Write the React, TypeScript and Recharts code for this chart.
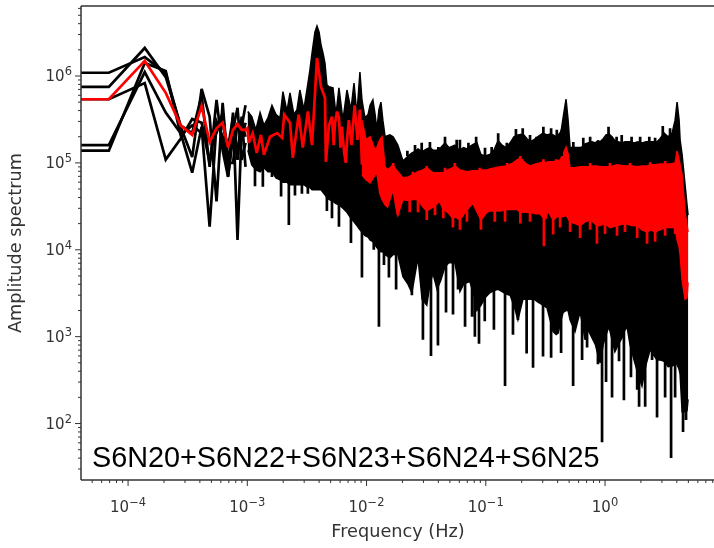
import { ComposedChart, Area, Line, XAxis, YAxis, ReferenceLine } from "recharts";

const INK = "#333333";

// log axes, limits
const xDomain = [4.03e-5, 8.2];
const yDomain = [22.4, 6.39e6];

const xMajor = [1e-4, 1e-3, 1e-2, 1e-1, 1];
const xExponents = ["−4", "−3", "−2", "−1", "0"];
const xMinor = [
  5e-5, 6e-5, 7e-5, 8e-5, 9e-5,
  2e-4, 3e-4, 4e-4, 5e-4, 6e-4, 7e-4, 8e-4, 9e-4,
  2e-3, 3e-3, 4e-3, 5e-3, 6e-3, 7e-3, 8e-3, 9e-3,
  2e-2, 3e-2, 4e-2, 5e-2, 6e-2, 7e-2, 8e-2, 9e-2,
  0.2, 0.3, 0.4, 0.5, 0.6, 0.7, 0.8, 0.9,
  2, 3, 4, 5, 6, 7, 8,
];
const yMajor = [1e2, 1e3, 1e4, 1e5, 1e6];
const yExponents = ["2", "3", "4", "5", "6"];
const yMinor = [
  30, 40, 50, 60, 70, 80, 90,
  200, 300, 400, 500, 600, 700, 800, 900,
  2e3, 3e3, 4e3, 5e3, 6e3, 7e3, 8e3, 9e3,
  2e4, 3e4, 4e4, 5e4, 6e4, 7e4, 8e4, 9e4,
  2e5, 3e5, 4e5, 5e5, 6e5, 7e5, 8e5, 9e5,
  2e6, 3e6, 4e6, 5e6, 6e6,
];

// the five separate segments at the low frequency end
const lowFreqs = [4.03e-5, 6.9e-5, 1.38e-4, 2.07e-4, 2.76e-4, 3.45e-4, 4.14e-4, 4.83e-4, 5.52e-4, 6.21e-4, 6.9e-4, 7.59e-4, 8.28e-4, 8.97e-4, 9.66e-4];
const segA = [1.09e6, 1.09e6, 1.65e6, 1.08e6, 2.6e5, 1.17e5, 7.1e5, 3.4e5, 3.6e4, 4.9e5, 9.0e4, 3.8e5, 1.3e4, 2.6e5, 4.6e5];
const segB = [7.5e5, 7.5e5, 2.1e6, 9.7e5, 2.7e5, 2.2e5, 6.0e5, 9.0e4, 5.3e5, 1.4e5, 6.9e4, 2.4e5, 4.3e5, 1.08e5, 1.7e5];
const segC = [1.6e5, 1.6e5, 1.11e6, 3.8e5, 2.2e5, 7.7e4, 2.6e5, 1.84e4, 2.8e5, 2.8e5, 1.5e5, 3.4e5, 1.08e5, 3.4e5, 9.0e4];
const segD = [1.38e5, 1.38e5, 1.41e6, 1.14e6, 2.1e5, 2.7e5, 2.2e5, 1.84e5, 2.2e5, 3.8e5, 1.0e5, 1.0e5, 2.9e5, 1.84e5, 2.9e5];
const segE = [5.4e5, 5.4e5, 8.3e5, 1.09e5, 1.9e5, 3.2e5, 2.9e5, 1.0e5, 3.0e5, 2.0e5, 7.0e4, 2.0e5, 1.4e5, 3.0e5, 2.0e5];

// black mass of the individual spectra: upper and lower edge
const bandFreqs = [
  1.01e-3, 1.09e-3, 1.18e-3, 1.28e-3, 1.38e-3, 1.49e-3, 1.61e-3, 1.74e-3, 1.88e-3, 1.99e-3,
  2.15e-3, 2.28e-3, 2.46e-3, 2.61e-3, 2.76e-3, 2.98e-3, 3.22e-3, 3.35e-3, 3.49e-3, 3.69e-3,
  3.84e-3, 4.0e-3, 4.15e-3, 4.31e-3, 4.48e-3, 4.65e-3, 4.84e-3, 5.23e-3, 5.54e-3, 5.87e-3,
  6.34e-3, 6.85e-3, 7.4e-3, 7.85e-3, 8.3e-3, 8.8e-3, 9.15e-3, 9.7e-3, 1.03e-2, 1.07e-2,
  1.13e-2, 1.18e-2, 1.22e-2, 1.27e-2, 1.32e-2, 1.37e-2, 1.43e-2, 1.57e-2, 1.67e-2, 1.83e-2,
  2.02e-2, 2.23e-2, 2.4e-2, 2.55e-2, 2.7e-2, 2.92e-2, 3.2e-2, 3.4e-2, 3.6e-2, 3.9e-2,
  4.2e-2, 4.55e-2, 4.9e-2, 5.2e-2, 5.5e-2, 5.85e-2, 6.07e-2, 6.5e-2, 6.95e-2, 7.35e-2,
  7.97e-2, 8.43e-2, 9.1e-2, 9.85e-2, 0.108, 0.117, 0.127, 0.137, 0.148, 0.16,
  0.172, 0.186, 0.205, 0.222, 0.235, 0.254, 0.274, 0.302, 0.326, 0.346,
  0.367, 0.389, 0.405, 0.428, 0.445, 0.471, 0.49, 0.509, 0.56, 0.618,
  0.654, 0.68, 0.72, 0.778, 0.83, 0.872, 0.91, 0.965, 1.02, 1.08,
  1.145, 1.21, 1.29, 1.39, 1.47, 1.53, 1.62, 1.75, 1.89, 2.04,
  2.21, 2.39, 2.58, 2.73, 2.89, 3.13, 3.38, 3.65, 3.87, 4.02,
  4.18, 4.26, 4.43, 4.69, 4.87, 4.97,
];
const bandTops = [
  3.9e5, 3.4e5, 2.4e5, 3.8e5, 2.7e5, 3.3e5, 4.6e5, 3.6e5, 3.3e5, 6.6e5,
  3.9e5, 6.4e5, 3.6e5, 4.1e5, 6.9e5, 4.1e5, 8.1e5, 1.17e6, 1.84e6, 3.2e6,
  3.76e6, 3.2e6, 2.27e6, 1.84e6, 1.41e6, 7.9e5, 7.5e5, 7.3e5, 3.6e5, 7.3e5,
  3.1e5, 6.9e5, 4.1e5, 8.3e5, 3.6e5, 1.11e6, 5.3e5, 3.3e5, 3.6e5, 4.6e5,
  5.3e5, 3.6e5, 2.4e5, 4.1e5, 5.0e5, 3.1e5, 2.0e5, 2.1e5, 2.0e5, 1.6e5,
  1.05e5, 1.2e5, 1.3e5, 1.35e5, 1.45e5, 1.35e5, 1.45e5, 1.5e5, 1.4e5, 1.4e5,
  1.5e5, 1.7e5, 1.5e5, 1.55e5, 1.6e5, 1.45e5, 1.4e5, 1.5e5, 1.45e5, 1.55e5,
  1.65e5, 1.7e5, 1.25e5, 1.2e5, 1.25e5, 1.4e5, 1.8e5, 1.6e5, 1.5e5, 1.7e5,
  2.0e5, 2.1e5, 2.15e5, 1.9e5, 1.75e5, 1.85e5, 2.0e5, 2.2e5, 2.1e5, 2.15e5,
  2.1e5, 2.0e5, 2.1e5, 2.3e5, 3.3e5, 5.4e5, 3.1e5, 1.5e5, 1.5e5, 1.5e5,
  1.55e5, 1.65e5, 1.7e5, 1.75e5, 1.7e5, 1.8e5, 1.75e5, 1.9e5, 2.1e5, 2.15e5,
  2.0e5, 1.8e5, 1.75e5, 1.7e5, 1.75e5, 1.75e5, 1.75e5, 1.7e5, 1.75e5, 1.7e5,
  1.75e5, 1.75e5, 1.75e5, 1.75e5, 1.9e5, 2.2e5, 2.0e5, 2.2e5, 3.1e5, 5.0e5,
  3.1e5, 1.84e5, 1.24e5, 5.6e4, 3.3e4, 2.5e4,
];
const bandLows = [
  1.4e5, 9.5e4, 8.3e4, 7.9e4, 8.8e4, 7.9e4, 7.9e4, 6.7e4, 6.4e4, 6.0e4,
  6.0e4, 5.6e4, 5.6e4, 5.6e4, 5.6e4, 5.6e4, 5.2e4, 5.2e4, 4.9e4, 4.9e4,
  4.9e4, 4.9e4, 4.9e4, 4.6e4, 4.3e4, 4.0e4, 3.8e4, 3.6e4, 3.4e4, 3.3e4,
  3.0e4, 2.7e4, 2.3e4, 2.1e4, 1.9e4, 1.7e4, 1.6e4, 1.45e4, 1.4e4, 1.3e4,
  1.24e4, 1.14e4, 1.06e4, 1.0e4, 9.5e3, 9.5e3, 8.8e3, 8.1e3, 8.8e3, 8.8e3,
  4.9e3, 4.0e3, 3.2e3, 5.2e3, 8.1e3, 2.7e3, 2.3e3, 4.0e3, 5.4e3, 3.5e3,
  4.5e3, 6.4e3, 7.1e3, 7.1e3, 7.1e3, 4.5e3, 3.3e3, 4.0e3, 4.2e3, 4.3e3,
  3.0e3, 2.0e3, 2.3e3, 2.8e3, 3.2e3, 3.4e3, 3.5e3, 3.3e3, 3.1e3, 3.0e3,
  2.3e3, 1.56e3, 2.7e3, 2.7e3, 2.7e3, 2.7e3, 2.5e3, 2.3e3, 2.15e3, 1.56e3,
  1.14e3, 1.06e3, 1.1e3, 1.56e3, 1.9e3, 2.0e3, 2.0e3, 1.56e3, 1.14e3, 1.94e3,
  1.27e3, 9.2e2, 1.2e3, 9.7e2, 8.1e2, 6.2e2, 5.0e2, 8.1e2, 1.06e3, 1.3e3,
  9.2e2, 6.7e2, 8.1e2, 9.7e2, 1.2e3, 1.3e3, 8.1e2, 5.4e2, 3.7e2, 2.7e2,
  4.8e2, 7.1e2, 6.0e2, 5.4e2, 5.4e2, 5.2e2, 4.5e2, 4.6e2, 4.8e2, 4.8e2,
  4.2e2, 3.7e2, 1.37e2, 1.37e2, 1.4e2, 1.9e2,
];

// single deep dips below the mass, each hangs from a root hidden in the mass
const dipFreqs = [
  1.16e-3, 1.35e-3, 1.61e-3, 1.92e-3, 2.23e-3, 2.51e-3, 2.87e-3, 3.22e-3, 4.65e-3, 5.13e-3,
  5.87e-3, 7.4e-3, 9.15e-3, 1.05e-2, 1.15e-2, 1.27e-2, 1.4e-2, 1.54e-2, 1.77e-2, 2.06e-2,
  2.4e-2, 2.97e-2, 3.47e-2, 3.97e-2, 4.64e-2, 5.31e-2, 5.85e-2, 6.7e-2, 7.67e-2, 8.1e-2,
  8.77e-2, 9.8e-2, 0.117, 0.145, 0.169, 0.186, 0.22, 0.249, 0.302, 0.353,
  0.428, 0.54, 0.642, 0.707, 0.872, 0.944, 1.02, 1.145, 1.31, 1.44,
  1.65, 1.86, 1.93, 2.17, 2.48, 2.73, 3.19, 3.58, 3.87, 4.51, 4.78,
];
const dipDepths = [
  5.4e4, 5.3e4, 6.9e4, 4.1e4, 1.93e4, 4.2e4, 4.4e4, 4.4e4, 2.8e4, 2.3e4,
  1.84e4, 1.2e4, 4.8e3, 1.8e4, 1.0e4, 1.3e3, 6.7e3, 4.8e3, 3.5e3, 4.9e3,
  3.0e3, 9.2e2, 6.0e2, 7.9e2, 1.9e3, 1.8e3, 3.5e3, 1.3e3, 1.7e3, 1.0e3,
  8.3e2, 1.5e3, 1.2e3, 2.7e2, 1.05e3, 1.56e3, 6.4e2, 4.4e2, 5.9e2, 5.7e2,
  6.5e2, 2.7e2, 5.4e2, 7.5e2, 4.8e2, 6.1e1, 3.0e2, 2.0e2, 5.2e2, 1.85e2,
  3.4e2, 2.45e2, 1.56e2, 1.56e2, 5.4e2, 1.17e2, 2.0e2, 4.0e1, 2.0e2, 8.0e1, 1.1e2,
];
const dipRoots = [
  1e5, 1e5, 1e5, 1e5, 1e5, 1e5, 1e5, 1e5, 1e5, 1e5,
  1e5, 1e5, 3e4, 3e4, 3e4, 3e4, 1e4, 1e4, 1e4, 1e4,
  1e4, 1e4, 1e4, 1e4, 1e4, 1e4, 1e4, 1e4, 1e4, 1e4,
  1e4, 1e4, 1e4, 1e4, 1e4, 1e4, 1e4, 1e4, 1e4, 1e4,
  1e4, 1e4, 1e4, 1e4, 1e4, 1e4, 1e4, 1e4, 1e4, 1e4,
  1e4, 1e4, 1e4, 1e4, 1e4, 1e4, 1e4, 1e4, 1e4, 1.5e3, 1.5e3,
];

// short teeth along the top edge of the mass
const peakFreqs = [
  2.2e-2, 2.55e-2, 2.9e-2, 3.4e-2, 4.0e-2, 4.55e-2, 5.7e-2, 6.07e-2, 7.15e-2, 8.3e-2,
  9.85e-2, 0.112, 0.127, 0.15, 0.179, 0.204, 0.235, 0.267, 0.304, 0.353,
  0.394, 0.433, 0.542, 0.657, 0.75, 1.07, 1.25, 1.38, 1.67, 1.97,
  2.35, 2.63, 3.05, 3.51,
];
const peakAmps = [
  1.38e5, 1.61e5, 1.7e5, 1.74e5, 1.52e5, 2.0e5, 1.84e5, 1.84e5, 1.7e5, 2.0e5,
  1.49e5, 1.52e5, 2.2e5, 1.7e5, 2.46e5, 2.5e5, 2.1e5, 2.0e5, 2.6e5, 2.5e5,
  2.4e5, 2.4e5, 1.74e5, 1.94e5, 2.0e5, 2.6e5, 2.0e5, 2.1e5, 2.0e5, 2.0e5,
  2.0e5, 1.94e5, 2.66e5, 2.5e5,
];
const peakRoot = 1.2e5;

// red stacked spectrum: a plain line first, then it thickens into a band
const redLineFreqs = [
  4.03e-5, 6.9e-5, 1.38e-4, 2.07e-4, 2.76e-4, 3.45e-4, 4.14e-4, 4.83e-4, 5.52e-4, 6.21e-4,
  6.9e-4, 7.59e-4, 8.28e-4, 8.97e-4, 9.66e-4, 1.0e-3, 1.03e-3, 1.11e-3, 1.2e-3, 1.3e-3,
  1.38e-3, 1.55e-3, 1.78e-3, 1.96e-3, 2.04e-3, 2.28e-3, 2.41e-3, 2.7e-3, 2.92e-3, 3.22e-3,
  3.49e-3, 3.84e-3, 4.15e-3, 4.48e-3, 4.56e-3, 4.84e-3, 5.13e-3, 5.3e-3, 5.44e-3, 5.66e-3,
  5.87e-3, 6.05e-3, 6.2e-3, 6.5e-3, 6.7e-3, 6.9e-3, 7.1e-3, 7.5e-3, 7.75e-3, 7.95e-3,
  8.4e-3, 8.8e-3, 9.15e-3,
];
const redLineAmps = [
  5.4e5, 5.4e5, 1.49e6, 6.4e5, 2.7e5, 2.1e5, 4.5e5, 1.74e5, 2.5e5, 2.9e5,
  1.5e5, 2.4e5, 2.8e5, 2.4e5, 2.4e5, 2.5e5, 1.7e5, 2.2e5, 1.3e5, 2.1e5,
  1.24e5, 2.0e5, 2.2e5, 1.94e5, 3.6e5, 2.9e5, 1.14e5, 3.6e5, 1.5e5, 3.9e5,
  1.6e5, 1.61e6, 7.5e5, 5.6e5, 1.03e5, 2.7e5, 3.4e5, 1.6e5, 2.9e5, 3.9e5,
  3.3e5, 1.5e5, 2.6e5, 1.3e5, 1.0e5, 2.0e5, 3.1e5, 1.6e5, 3.0e5, 4.6e5,
  1.84e5, 4.1e5, 9.5e4,
];
const redFreqs = [
  9.15e-3, 9.9e-3, 1.07e-2, 1.18e-2, 1.22e-2, 1.29e-2, 1.35e-2, 1.43e-2, 1.5e-2, 1.57e-2,
  1.67e-2, 1.77e-2, 1.83e-2, 2.02e-2, 2.23e-2, 2.45e-2, 2.7e-2, 2.97e-2, 3.2e-2, 3.6e-2,
  4.1e-2, 4.4e-2, 4.8e-2, 5.3e-2, 5.5e-2, 6.07e-2, 6.95e-2, 7.8e-2, 8.6e-2, 9.1e-2,
  0.102, 0.108, 0.132, 0.151, 0.169, 0.183, 0.195, 0.213, 0.235, 0.263,
  0.284, 0.307, 0.32, 0.332, 0.367, 0.395, 0.42, 0.445, 0.471, 0.49,
  0.509, 0.56, 0.618, 0.68, 0.75, 0.79, 0.855, 0.91, 1.0, 1.1,
  1.26, 1.47, 1.68, 1.86, 2.04, 2.25, 2.43, 2.63, 2.89, 3.19,
  3.52, 3.87, 4.02, 4.18, 4.26, 4.43, 4.69, 4.87, 4.97,
];
const redTops = [
  3.1e5, 1.84e5, 2.0e5, 1.4e5, 1.5e5, 1.84e5, 2.0e5, 9.0e4, 8.3e4, 8.8e4,
  9.5e4, 8.3e4, 7.9e4, 6.7e4, 6.9e4, 7.3e4, 7.9e4, 8.3e4, 8.8e4, 7.7e4,
  7.7e4, 7.7e4, 8.3e4, 8.8e4, 9.2e4, 8.3e4, 7.9e4, 8.1e4, 8.1e4, 8.3e4,
  8.3e4, 8.5e4, 9.0e4, 9.2e4, 1.0e5, 1.08e5, 1.14e5, 1.0e5, 9.2e4, 9.7e4,
  1.0e5, 1.03e5, 1.0e5, 1.03e5, 1.03e5, 1.05e5, 1.08e5, 1.27e5, 1.52e5, 1.27e5,
  8.8e4, 8.8e4, 9.0e4, 9.0e4, 9.0e4, 9.2e4, 9.2e4, 9.0e4, 9.0e4, 9.0e4,
  9.5e4, 9.2e4, 9.2e4, 9.0e4, 9.2e4, 9.2e4, 9.5e4, 9.5e4, 9.7e4, 9.7e4,
  9.7e4, 1.0e5, 1.37e5, 1.08e5, 9.5e4, 7.3e4, 2.66e4, 1.94e4, 1.6e4,
];
const redLows = [
  7.3e4, 6.4e4, 5.9e4, 7.3e4, 7.7e4, 4.5e4, 3.8e4, 3.3e4, 3.1e4, 3.8e4,
  4.9e4, 3.0e4, 2.5e4, 3.8e4, 3.7e4, 3.8e4, 3.8e4, 3.1e4, 2.8e4, 3.1e4,
  3.6e4, 2.9e4, 2.7e4, 2.3e4, 2.4e4, 2.2e4, 2.9e4, 3.4e4, 2.6e4, 2.2e4,
  2.7e4, 2.8e4, 2.8e4, 2.9e4, 2.9e4, 2.9e4, 2.7e4, 2.7e4, 2.7e4, 2.6e4,
  2.6e4, 2.3e4, 2.3e4, 2.8e4, 2.2e4, 2.4e4, 2.4e4, 2.4e4, 2.5e4, 2.3e4,
  2.1e4, 2.0e4, 1.9e4, 2.1e4, 2.2e4, 2.1e4, 1.9e4, 1.9e4, 2.0e4, 1.8e4,
  1.9e4, 2.0e4, 1.9e4, 1.9e4, 1.7e4, 1.6e4, 1.7e4, 1.6e4, 1.7e4, 1.8e4,
  1.8e4, 1.8e4, 1.3e4, 1.08e4, 8.8e3, 4.5e3, 2.7e3, 2.8e3, 4.2e3,
];

// thin red teeth on both edges of the red band
const redDipFreqs = [
  1.83e-2, 2.3e-2, 2.7e-2, 3.2e-2, 3.75e-2, 4.4e-2, 5.3e-2, 6.07e-2, 6.95e-2, 9.1e-2,
  0.119, 0.145, 0.195, 0.235, 0.307, 0.367, 0.42, 0.509, 0.618, 0.75,
  0.855, 1.0, 1.26, 1.47, 1.86, 2.25, 2.63, 3.19, 3.87,
];
const redDipAmps = [
  2.5e4, 2.7e4, 2.7e4, 2.2e4, 2.5e4, 2.3e4, 1.8e4, 1.7e4, 2.1e4, 1.7e4,
  2.1e4, 2.1e4, 2.0e4, 2.1e4, 1.1e4, 1.5e4, 1.8e4, 1.6e4, 1.37e4, 1.7e4,
  1.17e4, 1.52e4, 1.45e4, 1.6e4, 1.37e4, 1.17e4, 1.24e4, 1.45e4, 1.52e4,
];
const redPeakFreqs = [1.67e-2, 2.45e-2, 3.2e-2, 4.55e-2, 5.5e-2, 8.9e-2, 0.151, 0.195, 0.304, 0.389, 0.75, 1.1, 1.62, 2.39, 3.19];
const redPeakAmps = [1.0e5, 7.9e4, 9.2e4, 8.8e4, 1.0e5, 8.8e4, 1.0e5, 1.2e5, 1.1e5, 1.1e5, 1.0e5, 1.0e5, 1.0e5, 1.02e5, 1.05e5];
const redRoot = 5e4;

const lowRows = lowFreqs.map((freq, i) => ({
  freq, a: segA[i], b: segB[i], c: segC[i], d: segD[i], e: segE[i],
}));
const bandRows = bandFreqs.map((freq, i) => ({ freq, range: [bandLows[i], bandTops[i]] }));
const dipRows = dipFreqs.flatMap((freq, i) => [
  { freq, amp: dipRoots[i] },
  { freq, amp: dipDepths[i] },
  { freq, amp: null },
]);
const peakRows = peakFreqs.flatMap((freq, i) => [
  { freq, amp: peakRoot },
  { freq, amp: peakAmps[i] },
  { freq, amp: null },
]);
const redLineRows = redLineFreqs.map((freq, i) => ({ freq, amp: redLineAmps[i] }));
const redRows = redFreqs.map((freq, i) => ({ freq, range: [redLows[i], redTops[i]] }));
const redDipRows = redDipFreqs.flatMap((freq, i) => [
  { freq, amp: redRoot },
  { freq, amp: redDipAmps[i] },
  { freq, amp: null },
]);
const redPeakRows = redPeakFreqs.flatMap((freq, i) => [
  { freq, amp: redRoot },
  { freq, amp: redPeakAmps[i] },
  { freq, amp: null },
]);

const XTick = ({ x, payload }: any) => {
  const i = xMajor.indexOf(payload.value);
  const major = i >= 0;
  return (
    <g>
      <line x1={x} x2={x} y1={480} y2={major ? 486 : 483} stroke={INK} strokeWidth={1} />
      {major && (
        <text x={x} y={512} textAnchor="middle" fill={INK} fontSize={15}>
          10<tspan dy={-6} fontSize={11.5}>{xExponents[i]}</tspan>
        </text>
      )}
    </g>
  );
};

const YTick = ({ y, payload }: any) => {
  const i = yMajor.indexOf(payload.value);
  const major = i >= 0;
  return (
    <g>
      <line x1={major ? 75 : 78} x2={81} y1={y} y2={y} stroke={INK} strokeWidth={1} />
      {major && (
        <text x={72} y={y + 5} textAnchor="end" fill={INK} fontSize={15}>
          10<tspan dy={-6} fontSize={11.5}>{yExponents[i]}</tspan>
        </text>
      )}
    </g>
  );
};

export default function App() {
  return (
    <div style={{ position: "absolute", left: 0, top: 0, width: 714, height: 548, background: "#fff", filter: "blur(0.4px)" }}>
      <ComposedChart
        width={714}
        height={548}
        margin={{ top: 6, right: 0, bottom: 0, left: 0 }}
        style={{ fontFamily: "'DejaVu Sans', sans-serif" }}
      >
        <XAxis
          dataKey="freq"
          type="number"
          scale="log"
          domain={xDomain}
          allowDataOverflow
          ticks={[...xMajor, ...xMinor]}
          interval={0}
          height={68}
          stroke={INK}
          strokeWidth={1.5}
          tickLine={false}
          tick={<XTick />}
        />
        <YAxis
          type="number"
          scale="log"
          domain={yDomain}
          allowDataOverflow
          ticks={[...yMajor, ...yMinor]}
          interval={0}
          width={81}
          stroke={INK}
          strokeWidth={1.5}
          tickLine={false}
          tick={<YTick />}
        />
        <ReferenceLine y={yDomain[1]} stroke={INK} strokeWidth={1.5} ifOverflow="visible" />

        <Area data={bandRows} dataKey="range" type="linear" fill="#000" fillOpacity={1} stroke="#000" strokeWidth={1.5} dot={false} isAnimationActive={false} />
        <Area data={redRows} dataKey="range" type="linear" fill="#ff0000" fillOpacity={1} stroke="#ff0000" strokeWidth={1.5} dot={false} isAnimationActive={false} />
        <Line data={lowRows} dataKey="a" type="linear" stroke="#000" strokeWidth={2.7} dot={false} isAnimationActive={false} />
        <Line data={lowRows} dataKey="b" type="linear" stroke="#000" strokeWidth={2.7} dot={false} isAnimationActive={false} />
        <Line data={lowRows} dataKey="c" type="linear" stroke="#000" strokeWidth={2.7} dot={false} isAnimationActive={false} />
        <Line data={lowRows} dataKey="d" type="linear" stroke="#000" strokeWidth={2.7} dot={false} isAnimationActive={false} />
        <Line data={lowRows} dataKey="e" type="linear" stroke="#000" strokeWidth={2.7} dot={false} isAnimationActive={false} />
        <Line data={dipRows} dataKey="amp" type="linear" stroke="#000" strokeWidth={2.7} dot={false} isAnimationActive={false} />
        <Line data={peakRows} dataKey="amp" type="linear" stroke="#000" strokeWidth={2.7} dot={false} isAnimationActive={false} />
        <Line data={redLineRows} dataKey="amp" type="linear" stroke="#ff0000" strokeWidth={2.7} dot={false} isAnimationActive={false} />
        <Line data={redDipRows} dataKey="amp" type="linear" stroke="#ff0000" strokeWidth={2.7} dot={false} isAnimationActive={false} />
        <Line data={redPeakRows} dataKey="amp" type="linear" stroke="#ff0000" strokeWidth={2.7} dot={false} isAnimationActive={false} />

        <text x={398} y={537} textAnchor="middle" fill={INK} fontSize={17.7} style={{ fontFamily: "'DejaVu Sans', sans-serif" }}>
          Frequency (Hz)
        </text>
        <text x={21} y={243} transform="rotate(-90 21 243)" textAnchor="middle" fill={INK} fontSize={17.7} style={{ fontFamily: "'DejaVu Sans', sans-serif" }}>
          Amplitude spectrum
        </text>
        <text x={92} y={467} fill="#000" fontSize={28.8} style={{ fontFamily: "'Liberation Sans', sans-serif" }}>
          S6N20+S6N22+S6N23+S6N24+S6N25
        </text>
      </ComposedChart>
    </div>
  );
}
